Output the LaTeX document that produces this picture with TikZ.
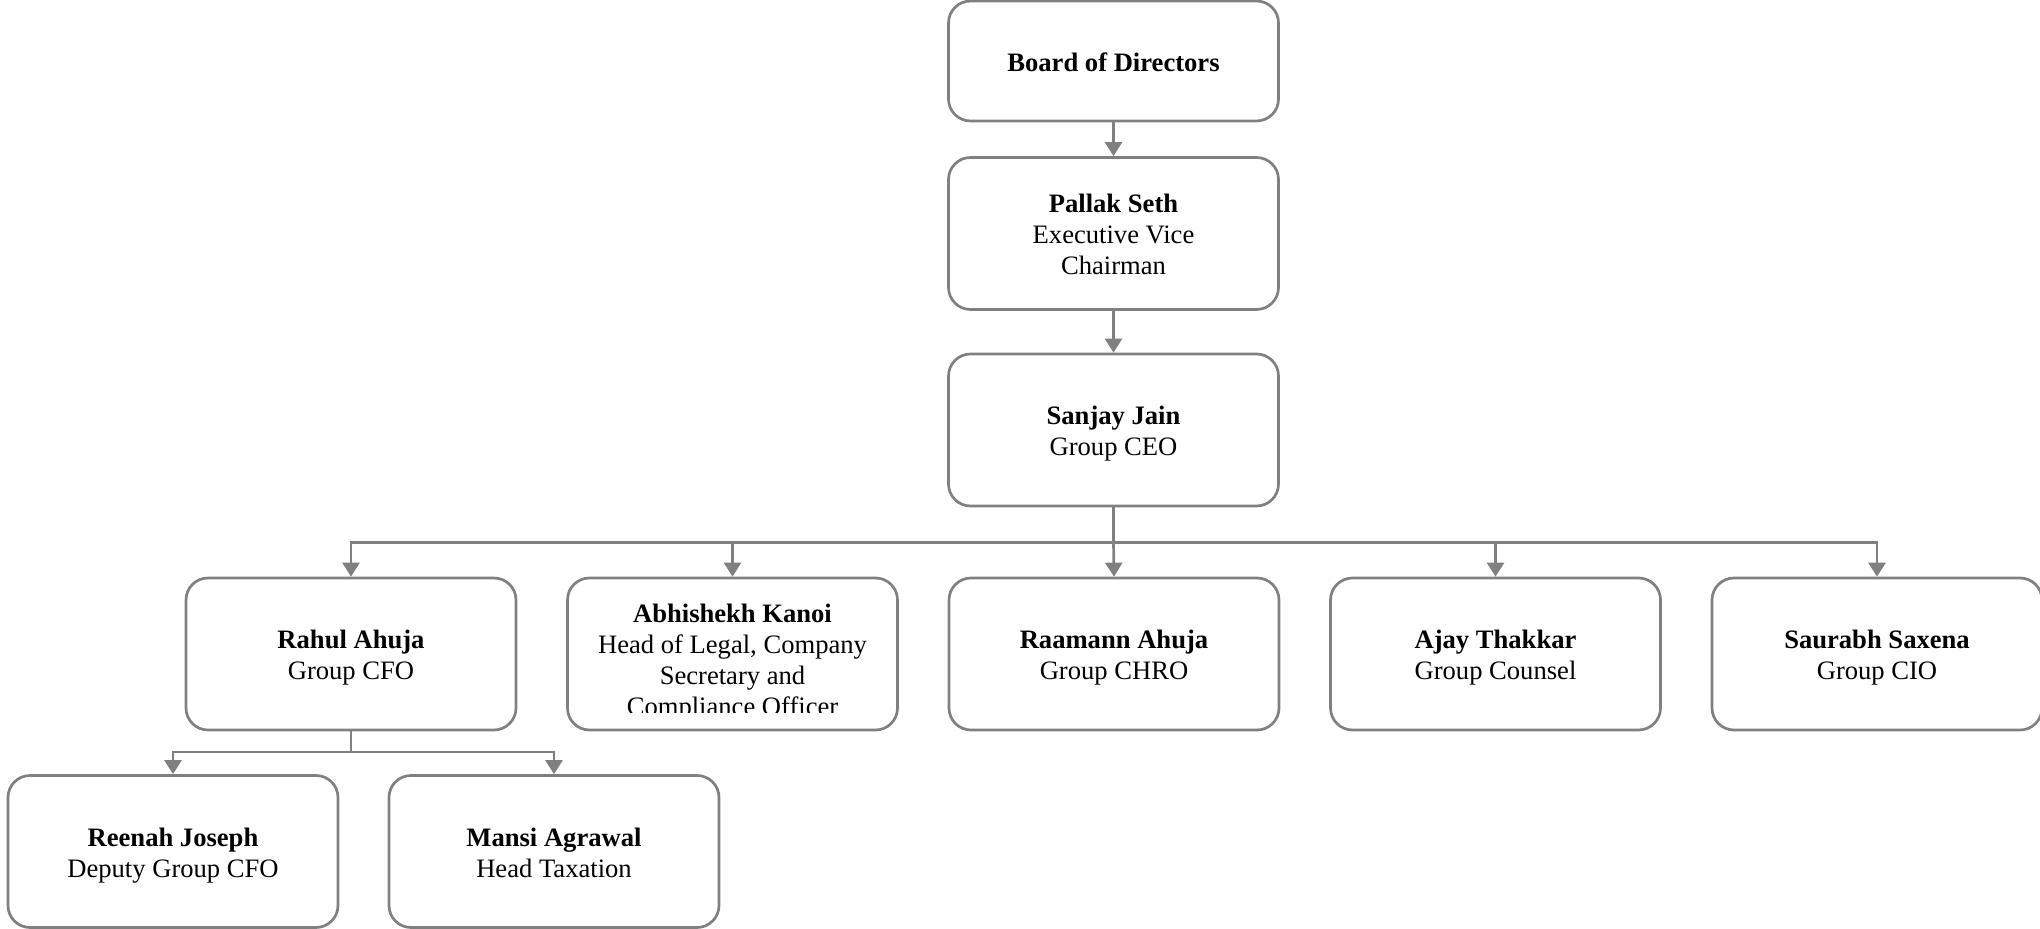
\documentclass[tikz,border=0pt]{standalone}
\usepackage{fontspec}
\setmainfont{Liberation Serif}
\usetikzlibrary{arrows.meta}
\definecolor{linegray}{RGB}{128,128,128}
\newcommand\topstr{\rule{0pt}{13.5pt}}
\newcommand\botstr{\rule[-3pt]{0pt}{3pt}}
\tikzset{
  orgbox/.style={draw=linegray, line width=1.35pt, rounded corners=11pt,
    minimum width=165pt, minimum height=76pt, inner sep=0pt,
    align=center, font=\fontsize{13.3pt}{15.5pt}\selectfont},
  conn/.style={draw=linegray, line width=1.35pt,
    -{Triangle[width=8.5pt,length=7pt]}},
  plainconn/.style={draw=linegray, line width=1.35pt}
}
\begin{document}
\begin{tikzpicture}[x=0.5pt,y=-0.5pt]
\useasboundingbox (0,0) rectangle (2040,929);
% top chain
\node[orgbox, minimum height=60pt] (board) at (1113.5,61) {\topstr\textbf{Board of Directors}\botstr};
\node[orgbox] (pallak) at (1113.5,233.5) {\topstr\textbf{Pallak Seth}\\Executive Vice\\Chairman\botstr};
\node[orgbox] (sanjay) at (1113.5,430) {\topstr\textbf{Sanjay Jain}\\Group CEO\botstr};
% level 2
\node[orgbox] (rahul) at (351,654) {\topstr\textbf{Rahul Ahuja}\\Group CFO\botstr};
\node[orgbox] (abhi) at (732.5,654) {};
\node[orgbox] (raamann) at (1114,654) {\topstr\textbf{Raamann Ahuja}\\Group CHRO\botstr};
\node[orgbox] (ajay) at (1495.5,654) {\topstr\textbf{Ajay Thakkar}\\Group Counsel\botstr};
\node[orgbox] (saurabh) at (1877,654) {\topstr\textbf{Saurabh Saxena}\\Group CIO\botstr};
\begin{scope}
  \clip (abhi.north west) rectangle ([yshift=9.5pt]abhi.south east);
  \node[align=center, inner sep=0pt, font=\fontsize{13.3pt}{15.5pt}\selectfont] (abhitext) at (732.5,658.5)
    {\topstr\textbf{Abhishekh Kanoi}\\Head of Legal, Company\\Secretary and\\Compliance Officer\botstr};
\end{scope}
% level 3
\node[orgbox] (reenah) at (173,851.5) {\topstr\textbf{Reenah Joseph}\\Deputy Group CFO\botstr};
\node[orgbox] (mansi) at (554,851.5) {\topstr\textbf{Mansi Agrawal}\\Head Taxation\botstr};
% connectors
\draw[conn] (board) -- (pallak);
\draw[conn] (pallak) -- (sanjay);
\coordinate (bus1) at (1113.5,542.5);
\draw[plainconn] (sanjay) -- (bus1);
\draw[conn] (bus1) -| (rahul.north);
\draw[conn] (bus1) -| (abhi.north);
\draw[conn] (bus1) -- (raamann.north);
\draw[conn] (bus1) -| (ajay.north);
\draw[conn] (bus1) -| (saurabh.north);
\coordinate (bus2) at (351,752);
\draw[plainconn] (rahul) -- (bus2);
\draw[conn] (bus2) -| (reenah.north);
\draw[conn] (bus2) -| (mansi.north);
\end{tikzpicture}
\end{document}
